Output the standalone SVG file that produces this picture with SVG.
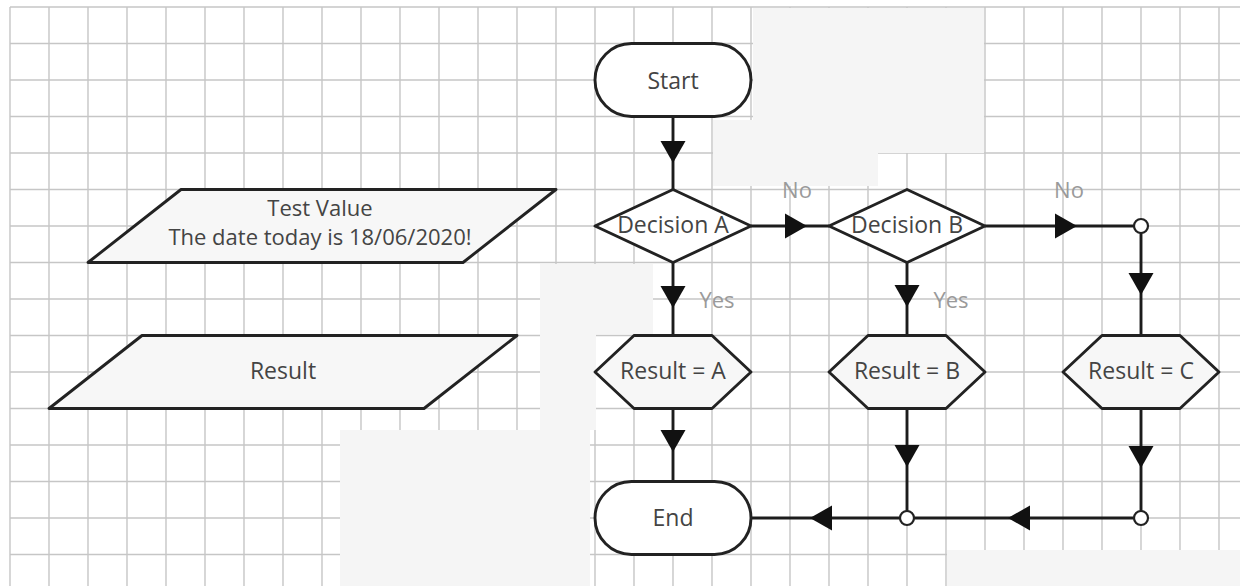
<svg xmlns="http://www.w3.org/2000/svg" width="1240" height="586" viewBox="0 0 1240 586">
<style>
.grid{stroke:#c6c6c6;stroke-width:1.4;fill:none}
.patch{fill:#f5f5f5;stroke:none}
.shape{stroke:#222;stroke-width:2.9;stroke-linejoin:round}
.plain{fill:#ffffff}
.soft{fill:#f7f7f7}
.conn{stroke:#1c1c1c;stroke-width:2.9;fill:none;marker-mid:url(#ah)}
.junction{fill:#ffffff;stroke:#222;stroke-width:2.2}
.t{font-family:"Open Sans","Noto Sans","Liberation Sans",sans-serif;font-size:23px;fill:#444;text-anchor:middle}
.t2{font-size:22px}
.lbl{font-family:"Open Sans","Noto Sans","Liberation Sans",sans-serif;font-size:22px;fill:#9a9a9a;text-anchor:middle}
</style>
<defs>
<marker id="ah" markerUnits="userSpaceOnUse" viewBox="-24 -13 26 26" markerWidth="26" markerHeight="26" refX="0" refY="0" orient="auto">
<path d="M0,0 L-22,-12.5 L-22,12.5 Z" fill="#111"/>
</marker>
</defs>
<rect x="0" y="0" width="1240" height="586" fill="#ffffff"/>
<g id="grid">
<path class="grid" d="M10,7V586M49,7V586M88,7V586M127,7V586M166,7V586M205,7V586M244,7V586M283,7V586M322,7V586M361,7V586M400,7V586M439,7V586M478,7V586M517,7V586M556,7V586M595,7V586M634,7V586M673,7V586M712,7V586M751,7V586M790,7V586M829,7V586M868,7V586M907,7V586M946,7V586M985,7V586M1024,7V586M1063,7V586M1102,7V586M1141,7V586M1180,7V586M1219,7V586"/>
<path class="grid" d="M10,7H1240M10,43.5H1240M10,80H1240M10,116.5H1240M10,153H1240M10,189.5H1240M10,226H1240M10,262.5H1240M10,299H1240M10,335.5H1240M10,372H1240M10,408.5H1240M10,445H1240M10,481.5H1240M10,518H1240M10,554.5H1240"/>
<rect class="patch" x="753" y="8" width="231" height="145"/>
<rect class="patch" x="753" y="153" width="125" height="33"/>
<rect class="patch" x="713" y="120" width="40" height="66"/>
<rect class="patch" x="540" y="264" width="56" height="166"/>
<rect class="patch" x="596" y="264" width="57" height="70"/>
<rect class="patch" x="340" y="430" width="250" height="156"/>
<rect class="patch" x="947" y="550" width="293" height="36"/>
</g>
<g id="connectors">
<path class="conn" d="M673,116.5 L673,163 L673,189.5"/>
<path class="conn" d="M751,226 L807,226 L829,226"/>
<path class="conn" d="M985,226 L1077,226 L1134,226"/>
<path class="conn" d="M1141,233 L1141,295 L1141,335.5"/>
<path class="conn" d="M673,262.5 L673,308 L673,335.5"/>
<path class="conn" d="M907,262.5 L907,307 L907,335.5"/>
<path class="conn" d="M673,408.5 L673,452 L673,481.5"/>
<path class="conn" d="M907,408.5 L907,467 L907,511"/>
<path class="conn" d="M900,518 L810,518 L751,518"/>
<path class="conn" d="M1141,408.5 L1141,468 L1141,511"/>
<path class="conn" d="M1134,518 L1008,518 L914,518"/>
<circle class="junction" cx="1141" cy="226" r="7"/>
<circle class="junction" cx="907" cy="518" r="7"/>
<circle class="junction" cx="1141" cy="518" r="7"/>
<text class="lbl" x="797" y="198">No</text>
<text class="lbl" x="1069" y="198">No</text>
<text class="lbl" x="717" y="308">Yes</text>
<text class="lbl" x="951" y="308">Yes</text>
</g>
<g id="test-value">
<polygon class="shape soft" points="181,189.5 556,189.5 463,262.5 88,262.5"/>
<text class="t t2" x="320" y="216">Test Value</text>
<text class="t t2" x="320" y="245">The date today is 18/06/2020!</text>
</g>
<g id="result-io">
<polygon class="shape soft" points="142,335.5 517,335.5 424,408.5 49,408.5"/>
<text class="t" x="283" y="379">Result</text>
</g>
<g id="start">
<rect class="shape plain" x="595" y="43.5" width="156" height="73" rx="36.5"/>
<text class="t" x="673" y="89">Start</text>
</g>
<g id="decision-a">
<polygon class="shape plain" points="595,226 673,189.5 751,226 673,262.5"/>
<text class="t" x="673" y="233">Decision A</text>
</g>
<g id="decision-b">
<polygon class="shape plain" points="829,226 907,189.5 985,226 907,262.5"/>
<text class="t" x="907" y="233">Decision B</text>
</g>
<g id="result-a">
<polygon class="shape soft" points="595,372 634,335.5 712,335.5 751,372 712,408.5 634,408.5"/>
<text class="t" x="673" y="379">Result = A</text>
</g>
<g id="result-b">
<polygon class="shape soft" points="829,372 868,335.5 946,335.5 985,372 946,408.5 868,408.5"/>
<text class="t" x="907" y="379">Result = B</text>
</g>
<g id="result-c">
<polygon class="shape soft" points="1063,372 1102,335.5 1180,335.5 1219,372 1180,408.5 1102,408.5"/>
<text class="t" x="1141" y="379">Result = C</text>
</g>
<g id="end">
<rect class="shape plain" x="595" y="481.5" width="156" height="73" rx="36.5"/>
<text class="t" x="673" y="526">End</text>
</g>
</svg>
